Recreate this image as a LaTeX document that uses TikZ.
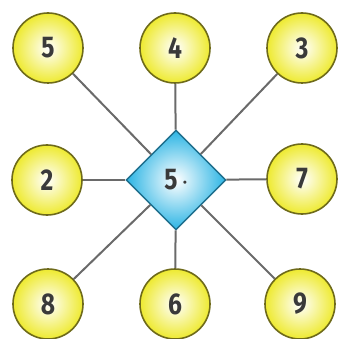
\documentclass[tikz,border=0pt]{standalone}
\usepackage{fontspec}
\setmainfont{Fira Sans}
\usetikzlibrary{shapes.geometric}
\definecolor{ballyel}{HTML}{EEEA30}
\definecolor{ballrim}{HTML}{6E6A1A}
\definecolor{dia}{HTML}{2AB4E4}
\definecolor{diarim}{HTML}{1E6E8C}
\definecolor{linegray}{HTML}{6A6A6A}
\definecolor{txt}{HTML}{3A3A3A}
\newcommand{\dg}[1]{\scalebox{0.82}[1]{#1}}
\begin{document}
\begin{tikzpicture}[x=1pt,y=-1pt,
  ball/.style={circle,minimum size=70pt,inner sep=0pt,draw=ballrim,line width=1.6pt,
    shading=radial,inner color=white,outer color=ballyel,
    font=\fontsize{30}{30}\selectfont\bfseries,text=txt},
  hub/.style={diamond,minimum size=100pt,inner sep=0pt,draw=diarim,line width=1.4pt,
    shading=radial,inner color=white,outer color=dia,
    font=\fontsize{30}{30}\selectfont\bfseries,text=txt},
  spoke/.style={draw=linegray,line width=2pt}]
\useasboundingbox (0,0) rectangle (337,339);
\node[hub] (c) at (176,180) {\dg{5}\,{\fontsize{22}{22}\selectfont\mdseries ·}};
\node[ball] (n5) at (48,48) {\dg{5}};
\node[ball] (n4) at (175,48) {\dg{4}};
\node[ball] (n3) at (302,48) {\dg{3}};
\node[ball] (n2) at (47,180) {\dg{2}};
\node[ball] (n7) at (302,179) {\dg{7}};
\node[ball] (n8) at (48,304) {\dg{8}};
\node[ball] (n6) at (175,304) {\dg{6}};
\node[ball] (n9) at (300,304) {\dg{9}};
\foreach \n in {n5,n4,n3,n2,n7,n8,n6,n9}{
  \path[spoke] (c) -- (\n);
}
\end{tikzpicture}
\end{document}
